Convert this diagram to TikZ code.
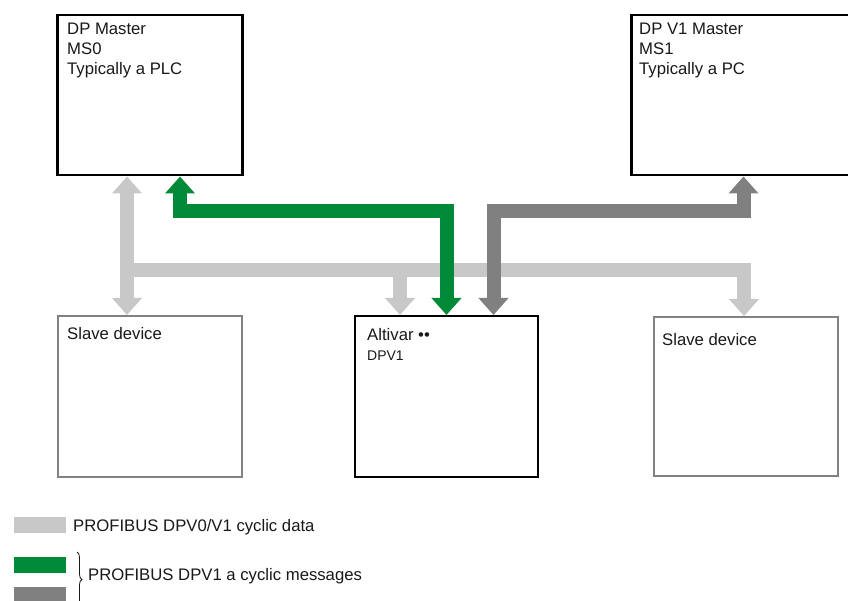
\documentclass[tikz,border=0pt]{standalone}
\usepackage{fontspec}
\setmainfont{Liberation Sans}
\usetikzlibrary{arrows.meta,decorations.pathreplacing}
\definecolor{lgray}{RGB}{200,200,200}
\definecolor{dgray}{RGB}{128,128,128}
\definecolor{sgreen}{RGB}{0,137,54}
\definecolor{bgray}{RGB}{130,130,130}
\definecolor{txt}{RGB}{25,25,25}
\tikzset{
  box/.style={draw=black, line width=2.5pt, fill=white, inner sep=0pt, anchor=north west},
  altbox/.style={draw=black, line width=2pt, fill=white, inner sep=0pt, anchor=north west},
  slavebox/.style={draw=bgray, line width=2pt, fill=white, inner sep=0pt, anchor=north west},
  lbl/.style={anchor=north west, inner sep=0pt, align=left, text=txt,
              font=\fontsize{16.7}{20}\selectfont},
  small/.style={anchor=north west, inner sep=0pt, text=txt,
              font=\fontsize{14}{17}\selectfont},
  legtxt/.style={anchor=west, inner sep=0pt, text=txt,
              font=\fontsize{16.7}{20}\selectfont},
  flow/.style={line width=14pt, line join=miter},
  lgy/.style={flow, draw=lgray},
  grn/.style={flow, draw=sgreen},
  dgy/.style={flow, draw=dgray},
  tip/.tip={Triangle[width=29pt,length=17pt]},
}
\begin{document}
\begin{tikzpicture}[x=1pt,y=-1pt]
\useasboundingbox (0,0) rectangle (848,601);
\fill[white] (0,0) rectangle (848,601);

% boxes
\node[box, minimum width=185pt, minimum height=160pt] (ms0) at (56,14) {};
\node[box, minimum width=240pt, minimum height=160pt] (ms1) at (630,14) {};
\node[slavebox, minimum width=184pt, minimum height=161pt] (sl1) at (57,315) {};
\node[altbox, minimum width=183pt, minimum height=161pt] (alt) at (354,315) {};
\node[slavebox, minimum width=184pt, minimum height=159pt] (sl2) at (653,316) {};

% texts
\node[lbl] (t0) at (67,23) {DP Master\\MS0\\Typically a PLC};
\node[lbl] (t1) at (639,23) {DP V1 Master\\MS1\\Typically a PC};
\node[lbl] (t2) at (67,327) {Slave device};
\node[lbl] (t3) at (367,328) {Altivar ••};
\node[small] (t4) at (367,351) {DPV1};
\node[lbl] (t5) at (662,333) {Slave device};

% light gray cyclic data
\draw[lgy, tip-tip] (127,0 |- ms0.south) -- (127,0 |- sl1.north);
\draw[lgy, -tip] (127,270) -- (744,270) -- (744,0 |- sl2.north);
\draw[lgy, -tip] (400,270) -- (400,0 |- alt.north);

% green acyclic
\draw[grn, tip-tip] (180,0 |- ms0.south) -- (180,211.5) -- (446.5,211.5) -- (446.5,0 |- alt.north);
% dark gray acyclic
\draw[dgy, tip-tip] (493.5,0 |- alt.north) -- (493.5,211) -- (743.5,211) -- (743.5,0 |- ms1.south);

% legend
\fill[lgray] (14,517) rectangle (66,533);
\node[legtxt] (lg1) at (73,527) {PROFIBUS DPV0/V1 cyclic data};
\fill[sgreen] (14,557) rectangle (66,573);
\fill[dgray] (14,587) rectangle (66,606);
\draw[decorate, decoration={brace, amplitude=5pt}, line width=0.8pt, draw=txt] (77,552) -- (77,607);
\node[legtxt] (lg2) at (88,576.5) {PROFIBUS DPV1 a cyclic messages};
\end{tikzpicture}
\end{document}
